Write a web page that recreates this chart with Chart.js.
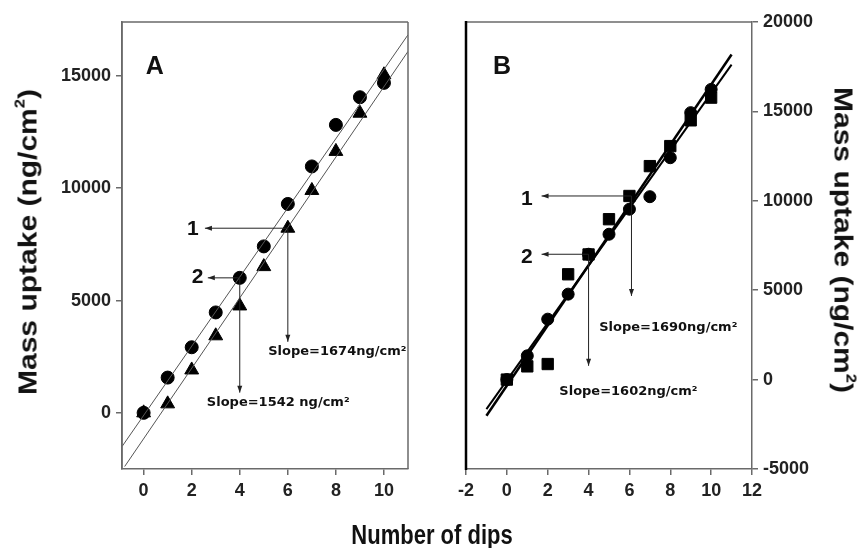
<!DOCTYPE html>
<html>
<head>
<meta charset="utf-8">
<script src="https://cdn.jsdelivr.net/npm/chart.js@4.4.0/dist/chart.umd.min.js"></script>
<style>
body { margin: 0; background: #fff; }
#wrap { position: relative; width: 865px; height: 548px; overflow: hidden; font-family: "Liberation Sans", Arial, sans-serif; }
canvas { position: absolute; top: 0; }
#chartA { left: 0; }
#chartB { left: 430px; }
.ttl { position: absolute; font-weight: bold; white-space: nowrap; color: #111; line-height: 1; }
.ttl sup { font-size: 0.55em; line-height: 0; position: relative; top: -0.2em; }
#ttlX { left: 432px; top: 535px; font-size: 22px; transform: translate(-50%, -50%) scaleY(1.25); }
#ttlL { left: 28px; top: 242px; font-size: 25px; transform: translate(-50%, -50%) rotate(-90deg) scaleX(1.2); }
#ttlR { left: 843px; top: 240px; font-size: 25px; transform: translate(-50%, -50%) rotate(90deg) scaleX(1.2); }
</style>
</head>
<body>
<div id="wrap">
  <canvas id="chartA" width="430" height="548" style="width:430px;height:548px"></canvas>
  <canvas id="chartB" width="435" height="548" style="width:435px;height:548px"></canvas>
  <div class="ttl" id="ttlX">Number of dips</div>
  <div class="ttl" id="ttlL">Mass uptake (ng/cm<sup>2</sup>)</div>
  <div class="ttl" id="ttlR">Mass uptake (ng/cm<sup>2</sup>)</div>
</div>
<script>
// panel A
const dipsA = [0, 1, 2, 3, 4, 5, 6, 7, 8, 9, 10];
const circlesA = [0, 1570, 2920, 4470, 6010, 7410, 9300, 10970, 12820, 14050, 14690];
const trianglesA = [0, 400, 1910, 3430, 4760, 6510, 8220, 9900, 11640, 13340, 15050];
const fitA1x = [-0.9, 11];
const fitA1y = [-1500, 16830];
const fitA2x = [-0.79, 11];
const fitA2y = [-2390, 16090];
const xTicksA = [0, 2, 4, 6, 8, 10];
const yTicksA = [0, 5000, 10000, 15000];

// panel B
const dipsB = [0, 1, 2, 3, 4, 5, 6, 7, 8, 9, 10];
const squaresB = [0, 740, 870, 5890, 7000, 8970, 10270, 11940, 13060, 14500, 15770];
const circlesB = [0, 1330, 3380, 4780, 7010, 8130, 9530, 10230, 12410, 14930, 16230];
const fitB1x = [-1, 11];
const fitB1y = [-2020, 18180];
const fitB2x = [-1, 11];
const fitB2y = [-1650, 17620];
const xTicksB = [-2, 0, 2, 4, 6, 8, 10, 12];
const yTicksB = [-5000, 0, 5000, 10000, 15000, 20000];

const pts = (xs, ys) => xs.map((x, i) => ({ x: x, y: ys[i] }));

const tickFont = { family: 'Liberation Sans', weight: 'bold', size: 18 };
const axisGray = '#6a6a6a';

function xAxis(min, max, ticks) {
  return {
    type: 'linear', min: min, max: max,
    afterBuildTicks: s => { s.ticks = ticks.map(v => ({ value: v })); },
    afterFit: s => { s.height = 79; },
    grid: { drawOnChartArea: false, tickLength: 6, color: axisGray, lineWidth: 1.5 },
    border: { color: axisGray, width: 1.5 },
    ticks: { font: tickFont, color: '#222', padding: 5, maxRotation: 0, autoSkip: false, callback: v => String(v) }
  };
}
function yAxis(min, max, ticks, pos, width) {
  return {
    type: 'linear', position: pos, min: min, max: max,
    afterBuildTicks: s => { s.ticks = ticks.map(v => ({ value: v })); },
    afterFit: s => { s.width = width; },
    grid: { drawOnChartArea: false, tickLength: 6, color: axisGray, lineWidth: 1.5 },
    border: { color: axisGray, width: 1.5 },
    ticks: { font: tickFont, color: '#222', padding: 5, autoSkip: false, callback: v => String(v) }
  };
}

function drawArrow(ctx, x1, y1, x2, y2) {
  ctx.beginPath();
  ctx.moveTo(x1, y1);
  ctx.lineTo(x2, y2);
  ctx.stroke();
  const a = Math.atan2(y2 - y1, x2 - x1);
  ctx.beginPath();
  ctx.moveTo(x2, y2);
  ctx.lineTo(x2 - 7 * Math.cos(a) + 2.5 * Math.sin(a), y2 - 7 * Math.sin(a) - 2.5 * Math.cos(a));
  ctx.lineTo(x2 - 7 * Math.cos(a) - 2.5 * Math.sin(a), y2 - 7 * Math.sin(a) + 2.5 * Math.cos(a));
  ctx.closePath();
  ctx.fill();
}

// frame + arrows + labels
const notes = {
  id: 'notes',
  afterDatasetsDraw(chart, args, o) {
    const ctx = chart.ctx, a = chart.chartArea;
    const sx = chart.scales.x, sy = chart.scales.y;
    ctx.save();
    ctx.lineWidth = 1.5;
    ctx.strokeStyle = axisGray;
    ctx.beginPath();
    ctx.moveTo(a.left, a.top); ctx.lineTo(a.right, a.top);
    if (o.rightLine) { ctx.moveTo(a.right, a.top); ctx.lineTo(a.right, a.bottom); }
    if (!o.leftBlack) { ctx.moveTo(a.left, a.top); ctx.lineTo(a.left, a.bottom); }
    ctx.stroke();
    if (o.leftBlack) {
      ctx.lineWidth = 2.5;
      ctx.strokeStyle = '#000';
      ctx.beginPath();
      ctx.moveTo(a.left, a.top - 1); ctx.lineTo(a.left, a.bottom + 1);
      ctx.stroke();
    }
    ctx.lineWidth = 1;
    ctx.strokeStyle = '#222';
    ctx.fillStyle = '#222';
    o.arrows.forEach(r => {
      drawArrow(ctx, sx.getPixelForValue(r[0]), sy.getPixelForValue(r[1]),
        sx.getPixelForValue(r[2]), sy.getPixelForValue(r[3]));
    });
    ctx.textAlign = 'center';
    ctx.textBaseline = 'middle';
    o.texts.forEach(t => {
      ctx.font = t.font;
      ctx.fillStyle = '#111';
      ctx.fillText(t.text, sx.getPixelForValue(t.x), sy.getPixelForValue(t.y));
    });
    ctx.restore();
  }
};

const bigFont = 'bold 25px "Liberation Sans"';
const numFont = 'bold 21px "Liberation Sans"';
const slopeFont = 'bold 13px "DejaVu Sans"';

new Chart(document.getElementById('chartA'), {
  type: 'scatter',
  data: {
    datasets: [
      { data: pts(fitA1x, fitA1y), showLine: true, borderColor: '#555', borderWidth: 1, pointRadius: 0 },
      { data: pts(fitA2x, fitA2y), showLine: true, borderColor: '#555', borderWidth: 1, pointRadius: 0 },
      { data: pts(dipsA, circlesA), pointStyle: 'circle', pointRadius: 6.5, backgroundColor: '#000', borderColor: '#000' },
      { data: pts(dipsA, trianglesA), pointStyle: 'triangle', pointRadius: 8, backgroundColor: '#000', borderColor: '#000' }
    ]
  },
  options: {
    responsive: false,
    animation: false,
    layout: { padding: { top: 22, right: 22, left: 0, bottom: 0 } },
    plugins: {
      legend: { display: false },
      tooltip: { enabled: false },
      notes: {
        rightLine: true,
        arrows: [[6, 8220, 2.55, 8220], [6, 8220, 6, 3160], [4, 6010, 2.67, 6010], [4, 6010, 4, 900]],
        texts: [
          { text: 'A', x: 0.46, y: 15370, font: bigFont },
          { text: '1', x: 2.05, y: 8190, font: numFont },
          { text: '2', x: 2.25, y: 6060, font: numFont },
          { text: 'Slope=1674ng/cm\u00b2', x: 8.06, y: 2720, font: slopeFont },
          { text: 'Slope=1542 ng/cm\u00b2', x: 5.6, y: 445, font: slopeFont }
        ]
      }
    },
    scales: {
      x: xAxis(-0.9, 11, xTicksA),
      y: yAxis(-2500, 17400, yTicksA, 'left', 122)
    }
  },
  plugins: [notes]
});

new Chart(document.getElementById('chartB'), {
  type: 'scatter',
  data: {
    datasets: [
      { data: pts(fitB1x, fitB1y), showLine: true, borderColor: '#000', borderWidth: 2.5, pointRadius: 0 },
      { data: pts(fitB2x, fitB2y), showLine: true, borderColor: '#000', borderWidth: 2, pointRadius: 0 },
      { data: pts(dipsB, squaresB), pointStyle: 'rect', pointRadius: 8, backgroundColor: '#000', borderColor: '#000' },
      { data: pts(dipsB, circlesB), pointStyle: 'circle', pointRadius: 6, backgroundColor: '#000', borderColor: '#000' }
    ]
  },
  options: {
    responsive: false,
    animation: false,
    layout: { padding: { top: 22, right: 0, left: 36, bottom: 0 } },
    plugins: {
      legend: { display: false },
      tooltip: { enabled: false },
      notes: {
        leftBlack: true,
        arrows: [[6.1, 10270, 1.7, 10270], [6.1, 10270, 6.1, 4680], [4, 7010, 1.7, 7010], [4, 7010, 4, 770]],
        texts: [
          { text: 'B', x: -0.24, y: 17450, font: bigFont },
          { text: '1', x: 0.98, y: 10080, font: numFont },
          { text: '2', x: 0.98, y: 6840, font: numFont },
          { text: 'Slope=1690ng/cm\u00b2', x: 7.9, y: 2930, font: slopeFont },
          { text: 'Slope=1602ng/cm\u00b2', x: 5.95, y: -700, font: slopeFont }
        ]
      }
    },
    scales: {
      x: xAxis(-2, 12, xTicksB),
      y: yAxis(-5000, 20000, yTicksB, 'right', 113)
    }
  },
  plugins: [notes]
});
</script>
</body>
</html>
